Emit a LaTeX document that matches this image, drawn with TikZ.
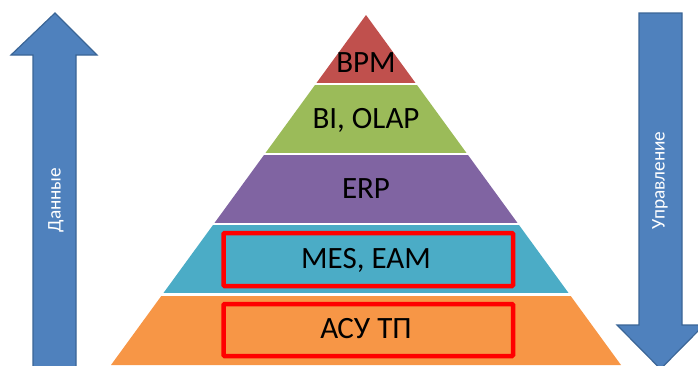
\documentclass[tikz,border=0pt]{standalone}
\usepackage{fontspec}
\setmainfont{Carlito}
\begin{document}
\definecolor{arrowfill}{HTML}{4F81BD}
\definecolor{arrowline}{HTML}{3A6596}
\definecolor{lvred}{HTML}{C0504D}
\definecolor{lvgreen}{HTML}{9BBB59}
\definecolor{lvpurple}{HTML}{8064A2}
\definecolor{lvteal}{HTML}{4BACC6}
\definecolor{lvorange}{HTML}{F79646}
\begin{tikzpicture}[x=1pt,y=-1pt,
  bigarrow/.style={fill=arrowfill,draw=arrowline,line width=1.2pt,line join=miter},
  level/.style={font=\fontsize{31}{31}\selectfont,anchor=base,inner sep=0pt},
  side/.style={font=\fontsize{19.3}{19.3}\selectfont,text=white,rotate=90,inner sep=0pt},
  hilite/.style={draw=red,line width=4.5pt,rounded corners=1pt}]
\useasboundingbox (0,0) rectangle (698,365);
\begin{scope}
\clip (0,0) rectangle (698,365);
% data flows up
\draw[bigarrow] (55,13) -- (97,55) -- (76,55) -- (76,372) -- (33,372) -- (33,55) -- (11,55) -- cycle;
% control flows down
\draw[bigarrow] (639,13) -- (682,13) -- (682,325) -- (704,325) -- (660.5,369) -- (617,325) -- (639,325) -- cycle;
% pyramid layers, separated by thin white gaps
\begin{scope}
\clip (366,15) -- (621,365) -- (111,365) -- cycle;
\fill[lvred]    (100,10)  rectangle (640,83);
\fill[lvgreen]  (100,85)  rectangle (640,153);
\fill[lvpurple] (100,155) rectangle (640,223);
\fill[lvteal]   (100,225) rectangle (640,293);
\fill[lvorange] (100,296) rectangle (640,370);
\end{scope}
\end{scope}
\node[side] (data) at (56,200) {Данные};
\node[side] (ctrl) at (660,180.5) {Управление};
\node[level] (bpm) at (366,72)  {BPM};
\node[level] (bi)  at (366,128) {BI, OLAP};
\node[level] (erp) at (366,198) {ERP};
\node[level] (mes) at (366,268) {MES, EAM};
\node[level] (acs) at (366,338) {АСУ ТП};
\draw[hilite] (223.5,233) rectangle (513,286);
\draw[hilite] (223.5,304) rectangle (513,356);
\end{tikzpicture}
\end{document}
